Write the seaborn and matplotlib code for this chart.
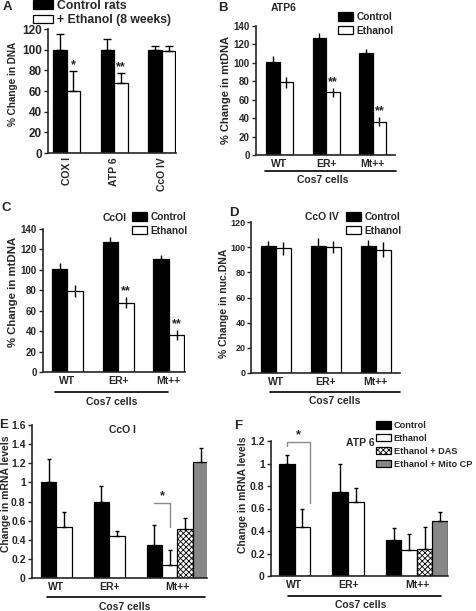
import numpy as np
import pandas as pd
import seaborn as sns
import matplotlib.pyplot as plt
from matplotlib.lines import Line2D
from matplotlib.ticker import FuncFormatter

W, H = 477, 611

# ---- values ----
genes_a = ["COX I", "ATP 6", "CcO IV"]
ctrl_a = [100, 100, 100]
ctrl_a_err = [15, 10, 4]
eth_a = [60, 68, 99]
eth_a_err = [19, 9, 5]
stars_a = ["*", "**", ""]

cells = ["WT", "ER+", "Mt++"]

# B: ATP6 mtDNA
ctrl_b = [101, 127, 111]
ctrl_b_err = [6, 5, 4]
eth_b = [79, 68, 36]
eth_b_err = [6, 5, 5]
stars_b = ["", "**", "**"]

# C: CcOI mtDNA
ctrl_c = [101, 127, 111]
ctrl_c_err = [6, 5, 4]
eth_c = [79, 68, 36]
eth_c_err = [6, 5, 5]
stars_c = ["", "**", "**"]

# D: CcO IV nuclear DNA
ctrl_d = [101, 101, 101]
ctrl_d_err = [4, 6, 5]
eth_d = [99, 100, 98]
eth_d_err = [5, 5, 6]

groups = ["Control", "Ethanol", "Ethanol + DAS", "Ethanol + Mito CP"]

# E: CcO I mRNA
ctrl_e = [1.0, 0.79, 0.35]
ctrl_e_err = [0.24, 0.17, 0.20]
eth_e = [0.53, 0.44, 0.14]
eth_e_err = [0.16, 0.05, 0.15]
das_e = [None, None, 0.51]
das_e_err = [None, None, 0.12]
mito_e = [None, None, 1.21]
mito_e_err = [None, None, 0.15]

# F: ATP 6 mRNA
ctrl_f = [1.0, 0.75, 0.32]
ctrl_f_err = [0.08, 0.25, 0.11]
eth_f = [0.44, 0.66, 0.23]
eth_f_err = [0.16, 0.12, 0.14]
das_f = [None, None, 0.24]
das_f_err = [None, None, 0.20]
mito_f = [None, None, 0.49]
mito_f_err = [None, None, 0.08]

colors = {"Control": "black", "Ethanol": "white",
          "Ethanol + DAS": "white", "Ethanol + Mito CP": "#878787",
          "Control rats": "black", "+ Ethanol (8 weeks)": "white"}

sns.set_style("ticks")
plt.rcParams["font.family"] = ["Liberation Sans", "DejaVu Sans"]
plt.rcParams["font.weight"] = "bold"
plt.rcParams["hatch.linewidth"] = 0.6

fig = plt.figure(figsize=(W / 100, H / 100), dpi=100)


def axes_px(l, t, r, b):
    return fig.add_axes([l / W, 1 - b / H, (r - l) / W, (b - t) / H])


def ftext(x, y, s, **kw):
    fig.text(x / W, 1 - y / H, s, ha=kw.pop("ha", "center"), va=kw.pop("va", "center"), **kw)


def fline(x1, x2, y):
    fig.add_artist(Line2D([x1 / W, x2 / W], [1 - y / H] * 2, transform=fig.transFigure,
                          color="black", lw=1.2))


def bar_panel(ax, cats, levels, values, errs, width, up_only, capsize, stars=None):
    rows = []
    for lev, vals in zip(levels, values):
        for c, v in zip(cats, vals):
            if v is not None:
                rows.append((c, lev, v))
    df = pd.DataFrame(rows, columns=["cat", "group", "value"])
    sns.barplot(data=df, x="cat", y="value", hue="group", order=cats, hue_order=levels,
                palette=colors, width=width, errorbar=None, edgecolor="black",
                linewidth=0.9, legend=False, ax=ax)
    centers = {}
    for cont, lev, vals, ev in zip(ax.containers, levels, values, errs):
        if lev == "Ethanol + DAS":
            for p in cont.patches:
                p.set_hatch("xxxxxx")
        for p in cont.patches:
            xc = p.get_x() + p.get_width() / 2
            i = int(np.round(xc))
            centers.setdefault(i, []).append(xc)
            e = ev[i]
            yerr = [[0], [e]] if up_only else [[e], [e]]
            ax.errorbar([xc], [p.get_height()], yerr=yerr, fmt="none", ecolor="black",
                        elinewidth=1.0, capsize=capsize, capthick=1.0, zorder=5)
            if stars is not None and lev != levels[0] and stars[i]:
                ax.text(xc, p.get_height() + e, stars[i], ha="center", va="bottom",
                        fontsize=9, fontweight="bold")
    ax.set_xlabel("")
    ax.set_ylabel("")
    for s in ["top", "right"]:
        ax.spines[s].set_visible(False)
    for s in ["left", "bottom"]:
        ax.spines[s].set_linewidth(1.2)
    ax.tick_params(axis="x", length=0, pad=3)
    ax.tick_params(axis="y", length=3, width=1.0, pad=1.5)
    return {i: np.mean(v) for i, v in centers.items()}


def legend(ax, levels, x, y, fs=7.3, spacing=0.38, hl=1.45, hh=0.85):
    handles = ax.containers[:len(levels)]
    ax.legend(handles, levels, loc="upper left", bbox_to_anchor=(x / W, 1 - y / H),
              bbox_transform=fig.transFigure, frameon=False, borderpad=0,
              borderaxespad=0, handlelength=hl, handleheight=hh,
              handletextpad=0.35, labelspacing=spacing, prop={"size": fs, "weight": "bold"})


# ---- A ----
axA = axes_px(48, 29, 176, 153)
bar_panel(axA, genes_a, ["Control rats", "+ Ethanol (8 weeks)"], [ctrl_a, eth_a],
          [ctrl_a_err, eth_a_err], 0.57, True, 3, stars_a)
axA.set_xlim(-0.39, 2.3)
axA.set_ylim(0, 120)
axA.set_yticks(range(0, 121, 20))
axA.set_xticks(range(3), genes_a, rotation=90, fontsize=7.5)
axA.tick_params(axis="y", labelsize=8.5)
legend(axA, ["Control rats", "+ Ethanol (8 weeks)"], 33, 0, fs=8.8, spacing=0.2,
       hl=1.6, hh=0.7)
ftext(13, 84, "% Change in DNA", rotation=90, fontsize=7.2)

# ---- B ----
axB = axes_px(256, 26, 395, 155)
bar_panel(axB, cells, ["Control", "Ethanol"], [ctrl_b, eth_b], [ctrl_b_err, eth_b_err],
          0.58, False, 0, stars_b)
axB.set_xlim(-0.505, 2.48)
axB.set_ylim(0, 140)
axB.set_yticks(range(0, 141, 20))
axB.set_xticks(range(3), cells, fontsize=7.5)
axB.tick_params(axis="y", labelsize=7)
legend(axB, ["Control", "Ethanol"], 338, 12)
ftext(284, 8, "ATP6", fontsize=7.5)
ftext(226, 90, "% Change in mtDNA", rotation=90, fontsize=8)
fline(265, 396, 171)
ftext(323, 180, "Cos7 cells", fontsize=7.5)

# ---- C ----
axC = axes_px(43, 229, 185, 372)
bar_panel(axC, cells, ["Control", "Ethanol"], [ctrl_c, eth_c], [ctrl_c_err, eth_c_err],
          0.61, False, 0, stars_c)
axC.set_xlim(-0.48, 2.32)
axC.set_ylim(0, 140)
axC.set_yticks(range(0, 141, 20))
axC.set_xticks(range(3), cells, fontsize=7.5)
axC.tick_params(axis="y", labelsize=7)
legend(axC, ["Control", "Ethanol"], 132, 212)
ftext(115, 218, "CcOI", fontsize=7.5)
ftext(13, 292, "% Change in mtDNA", rotation=90, fontsize=8.2)
fline(55, 168, 392)
ftext(112, 402, "Cos7 cells", fontsize=7.5)

# ---- D ----
axD = axes_px(251, 222, 400, 373)
bar_panel(axD, cells, ["Control", "Ethanol"], [ctrl_d, eth_d], [ctrl_d_err, eth_d_err],
          0.6, False, 0)
axD.set_xlim(-0.5, 2.49)
axD.set_ylim(0, 120)
axD.set_yticks(range(0, 121, 20))
axD.set_xticks(range(3), cells, fontsize=7.5)
axD.tick_params(axis="y", labelsize=6.5, pad=1)
legend(axD, ["Control", "Ethanol"], 346, 212)
ftext(322, 217, "CcO IV", fontsize=7.5)
ftext(224, 303, "% Change in nuc.DNA", rotation=90, fontsize=7.5)
fline(270, 400, 392)
ftext(335, 401, "Cos7 cells", fontsize=7.5)

# ---- E ----
fmt = FuncFormatter(lambda v, _: f"{v:g}")
axE = axes_px(32, 425, 207, 578)
cE = bar_panel(axE, cells, groups, [ctrl_e, eth_e, das_e, mito_e],
               [ctrl_e_err, eth_e_err, das_e_err, mito_e_err], 1.17, True, 1.6)
axE.set_xlim(-0.755, 2.56)
axE.set_ylim(0, 1.6)
axE.set_yticks(np.arange(0, 1.61, 0.2))
axE.yaxis.set_major_formatter(fmt)
axE.set_xticks([cE[i] for i in range(3)], cells, fontsize=7.5)
axE.tick_params(axis="y", labelsize=7.5)
mt_black = axE.containers[0].patches[2]
mt_white = axE.containers[1].patches[2]
xb = mt_black.get_x() + mt_black.get_width() / 2
xw = mt_white.get_x() + mt_white.get_width() / 2
axE.plot([xb, xw, xw], [0.78, 0.78, 0.53], color="#8a8a8a", lw=1.0, clip_on=False)
axE.text((xb + xw) / 2, 0.79, "*", ha="center", va="bottom", fontsize=9, fontweight="bold")
ftext(122, 430, "CcO I", fontsize=7.5)
ftext(6, 494, "Change in mRNA levels", rotation=90, fontsize=7.5)
fline(47, 205, 597)
ftext(125, 607, "Cos7 cells", fontsize=7.5)

# ---- F ----
axF = axes_px(271, 441, 448, 576)
cF = bar_panel(axF, cells, groups, [ctrl_f, eth_f, das_f, mito_f],
               [ctrl_f_err, eth_f_err, das_f_err, mito_f_err], 1.16, True, 1.6)
axF.set_xlim(-0.73, 2.58)
axF.set_ylim(0, 1.2)
axF.set_yticks(np.arange(0, 1.21, 0.2))
axF.yaxis.set_major_formatter(fmt)
axF.set_xticks([cF[i] for i in range(3)], cells, fontsize=7.5)
axF.tick_params(axis="y", labelsize=7.5)
wt_black = axF.containers[0].patches[0]
wt_white = axF.containers[1].patches[0]
xl = wt_black.get_x() + wt_black.get_width() / 2
xr = wt_white.get_x() + wt_white.get_width()
axF.plot([xl, xl, xr, xr], [1.156, 1.19, 1.19, 0.65], color="#8a8a8a", lw=1.0, clip_on=False)
axF.text((xl + xr) / 2, 1.2, "*", ha="center", va="bottom", fontsize=9, fontweight="bold")
legend(axF, groups, 376, 421, fs=6.6, spacing=0.42, hl=1.6, hh=0.9)
ftext(360, 443, "ATP 6", fontsize=7.5)
ftext(243, 495, "Change in mRNA levels", rotation=90, fontsize=7.5)
fline(288, 441, 596)
ftext(361, 605, "Cos7 cells", fontsize=7.5)

# ---- panel letters ----
for letter, x, y in [("A", 7, 7), ("B", 223, 8), ("C", 6, 208),
                     ("D", 234, 213), ("E", 4, 425), ("F", 238, 426)]:
    ftext(x, y, letter, fontsize=9.5, fontweight="bold")

fig.savefig("out.png", dpi=100)
